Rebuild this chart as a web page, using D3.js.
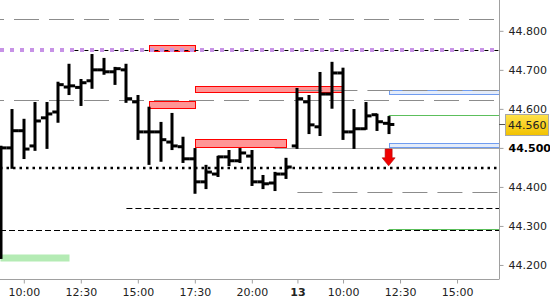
<!DOCTYPE html>
<html><head><meta charset="utf-8">
<script src="https://cdn.jsdelivr.net/npm/d3@7"></script>
<style>html,body{margin:0;padding:0;background:#fff;overflow:hidden}</style>
</head><body><svg id="c" width="550" height="300"></svg>
<script>
// ---- data ----
const opens  = [44.22,44.50,44.544,44.505,44.577,44.592,44.656,44.655,44.672,44.70,44.695,44.70,44.618,44.541,44.541,44.515,44.503,44.472,44.413,44.433,44.477,44.467,44.479,44.413,44.41,44.433,44.505,44.618,44.554,44.638,44.692,44.541,44.549,44.585,44.563];
const highs  = [44.503,44.597,44.572,44.615,44.615,44.667,44.713,44.674,44.738,44.728,44.705,44.713,44.633,44.603,44.564,44.587,44.526,44.497,44.454,44.477,44.492,44.497,44.492,44.428,44.436,44.472,44.651,44.633,44.692,44.718,44.703,44.597,44.615,44.585,44.579];
const lows   = [44.218,44.449,44.474,44.495,44.50,44.567,44.638,44.610,44.654,44.69,44.664,44.618,44.523,44.459,44.467,44.497,44.464,44.385,44.397,44.428,44.456,44.464,44.405,44.397,44.392,44.423,44.50,44.538,44.533,44.603,44.523,44.50,44.549,44.546,44.538];
const closes = [44.50,44.544,44.497,44.569,44.587,44.662,44.659,44.667,44.70,44.695,44.703,44.626,44.541,44.541,44.521,44.505,44.472,44.413,44.438,44.477,44.467,44.487,44.413,44.408,44.433,44.451,44.626,44.559,44.638,44.692,44.541,44.549,44.582,44.567,44.56];

const xTickIndex  = [2,7,12,17,22,26,30,35,40];
const xTickLabels = ["10:00","12:30","15:00","17:30","20:00","13","10:00","12:30","15:00"];
const xTickBold   = ["13"];
const yTicks      = [44.2,44.3,44.4,44.5,44.6,44.7,44.8];
const yTickBold   = [44.5];
const lastPrice   = 44.56;

// horizontal levels: from/to in bar index ("start"/"end" = chart edges)
const levelFrom  = ["start","start",6,"start",26,24,"start",26,11,"start",34,34];
const levelValue = [44.831,44.751,44.751,44.623,44.649,44.50,44.449,44.387,44.346,44.290,44.585,44.292];
const levelKind  = ["grayDash","purpleDot","blackFine","grayDash","grayDash2","graySolid","blackDot","grayDash2","blackDash","blackDash","green","green"];

// zones
const zoneFrom   = [13,13,17,17,34,34,"start"];
const zoneTo     = [17,17,30,25,"end","end",6];
const zoneTop    = [44.764,44.621,44.659,44.523,44.649,44.513,44.228];
const zoneBottom = [44.749,44.603,44.644,44.503,44.638,44.503,44.210];
const zoneKind   = ["red","red","red","red","blue","blue","green"];

// signal arrow
const arrowIndex = 34, arrowTop = 44.497, arrowTip = 44.454;

// ---- styles ----
const lineStyles = {
  grayDash:  {stroke:"#8c8c8c", w:1, dash:"25,10", off:21},
  grayDash2: {stroke:"#8c8c8c", w:1, dash:"25,10", off:0},
  graySolid: {stroke:"#a8a8a8", w:1},
  purpleDot: {stroke:"#c792e6", w:4, dash:"4,6", off:0},
  blackFine: {stroke:"#000", w:1, dash:"4,6", off:-5},
  blackDot:  {stroke:"#000", w:2.5, dash:"2.5,4", off:0},
  blackDash: {stroke:"#000", w:1, dash:"6,3", off:0},
  green:     {stroke:"#5cbf5c", w:1}
};
const zoneStyles = {
  red:   {fill:"#ff9696", stroke:"#ff0000"},
  blue:  {fill:"#e4ecfa", stroke:"#6f9cf0"},
  green: {fill:"#b4ebb4", stroke:"none"}
};

const W = 550, H = 300, plotR = 499, plotB = 279;
const svg = d3.select("#c");
svg.append("rect").attr("width",W).attr("height",H).attr("fill","#fff");

const x = d3.scaleLinear().domain([-0.088, 43.68]).range([0, plotR]);
const y = d3.scaleLinear().domain([44.164, 44.879]).range([plotB, 0]);
const half = (x(1) - x(0)) / 2;
const px = v => v === "start" ? x.domain()[0] : v === "end" ? x.domain()[1] : v;

const plot = svg.append("g");
plot.append("clipPath").attr("id","clip").append("rect").attr("width",plotR).attr("height",plotB);
const g = plot.append("g").attr("clip-path","url(#clip)");

// zones
zoneKind.forEach((k,i) => {
  const s = zoneStyles[k];
  const x0 = Math.round(x(px(zoneFrom[i]))), x1 = Math.round(x(px(zoneTo[i])));
  const y0 = Math.round(y(zoneTop[i])), y1 = Math.round(y(zoneBottom[i]));
  g.append("rect").attr("x", x0 + 0.5).attr("y", y0 + 0.5)
    .attr("width", x1 - x0).attr("height", y1 - y0)
    .attr("fill", s.fill).attr("stroke", s.stroke).attr("stroke-width", 1);
});

// level lines
levelKind.forEach((k,i) => {
  const s = lineStyles[k];
  const yy = Math.round(y(levelValue[i])) + (s.w % 2 === 1 ? 0.5 : 0);
  const l = g.append("line")
    .attr("x1", x(px(levelFrom[i]))).attr("x2", x(px("end")))
    .attr("y1", yy).attr("y2", yy)
    .attr("stroke", s.stroke).attr("stroke-width", s.w);
  if (s.dash) l.attr("stroke-dasharray", s.dash).attr("stroke-dashoffset", s.off);
});

// OHLC bars
const bars = g.append("g").attr("fill","#000");
opens.forEach((o,i) => {
  const cx = x(i);
  const yh = y(highs[i]), yl = y(lows[i]);
  bars.append("rect").attr("x", Math.round(cx) - 1.5).attr("y", yh - 1)
    .attr("width", 3).attr("height", Math.max(yl - yh + 2, 3));
  bars.append("rect").attr("x", cx - half).attr("y", y(o) - 1.5)
    .attr("width", half).attr("height", 3);
  bars.append("rect").attr("x", cx).attr("y", y(closes[i]) - 1.5)
    .attr("width", half).attr("height", 3);
});

// arrow
{
  const ax = x(arrowIndex), t = y(arrowTop), tip = y(arrowTip);
  const headH = 8;
  const p = `M${ax-3.5},${t} L${ax+3.5},${t} L${ax+3.5},${tip-headH} L${ax+6.5},${tip-headH} L${ax},${tip} L${ax-6.5},${tip-headH} L${ax-3.5},${tip-headH} Z`;
  g.append("path").attr("d", p).attr("fill","#f00000").attr("stroke","#b00000").attr("stroke-width",0.6);
}

// axes
const font = "DejaVu Sans, Verdana, sans-serif";
const xAxis = d3.axisBottom(x).tickValues(xTickIndex)
  .tickFormat((d,i) => xTickLabels[i]).tickSize(4).tickSizeOuter(0).tickPadding(5);
const gx = svg.append("g").attr("transform",`translate(0,${plotB + 0.5})`).call(xAxis);
gx.select(".domain").attr("stroke","#a0a0a0").attr("d", `M0,0H${plotR}`);
gx.selectAll(".tick line").attr("stroke","#a0a0a0");
gx.selectAll(".tick text").attr("fill","#222").attr("font-family",font).attr("font-size",11)
  .attr("font-weight", d => xTickBold.includes(xTickLabels[xTickIndex.indexOf(d)]) ? "bold" : "normal");

const yAxis = d3.axisRight(y).tickValues(yTicks).tickFormat(d3.format(".3f"))
  .tickSize(4).tickSizeOuter(0).tickPadding(5);
const gy = svg.append("g").attr("transform",`translate(${plotR + 0.5},0)`).call(yAxis);
gy.select(".domain").attr("stroke","#a0a0a0").attr("d", `M0,0V${plotB + 0.5}`);
gy.selectAll(".tick line").attr("stroke","#a0a0a0");
gy.selectAll(".tick text").attr("font-family",font).attr("font-size",11)
  .attr("fill", d => yTickBold.some(b => Math.abs(b-d) < 1e-9) ? "#000" : "#222")
  .attr("font-weight", d => yTickBold.some(b => Math.abs(b-d) < 1e-9) ? "bold" : "normal");

// last price label
{
  const defs = svg.append("defs");
  const gr = defs.append("linearGradient").attr("id","gold").attr("x1",0).attr("y1",0).attr("x2",0).attr("y2",1);
  gr.append("stop").attr("offset","0%").attr("stop-color","#ffe24a");
  gr.append("stop").attr("offset","100%").attr("stop-color","#f2c200");
  const ly = y(lastPrice);
  svg.append("line").attr("x1", plotR).attr("x2", plotR + 6)
    .attr("y1", Math.round(ly) + 0.5).attr("y2", Math.round(ly) + 0.5).attr("stroke","#555");
  svg.append("rect").attr("x", 505.5).attr("y", Math.round(ly) - 9.5)
    .attr("width", 43).attr("height", 21)
    .attr("fill","url(#gold)").attr("stroke","#a8a8a8");
  svg.append("text").attr("x", 508).attr("y", Math.round(ly) + 1).attr("dy","0.35em")
    .attr("font-family",font).attr("font-size",11).attr("fill","#222")
    .text(d3.format(".3f")(lastPrice));
}
</script>
</body></html>
